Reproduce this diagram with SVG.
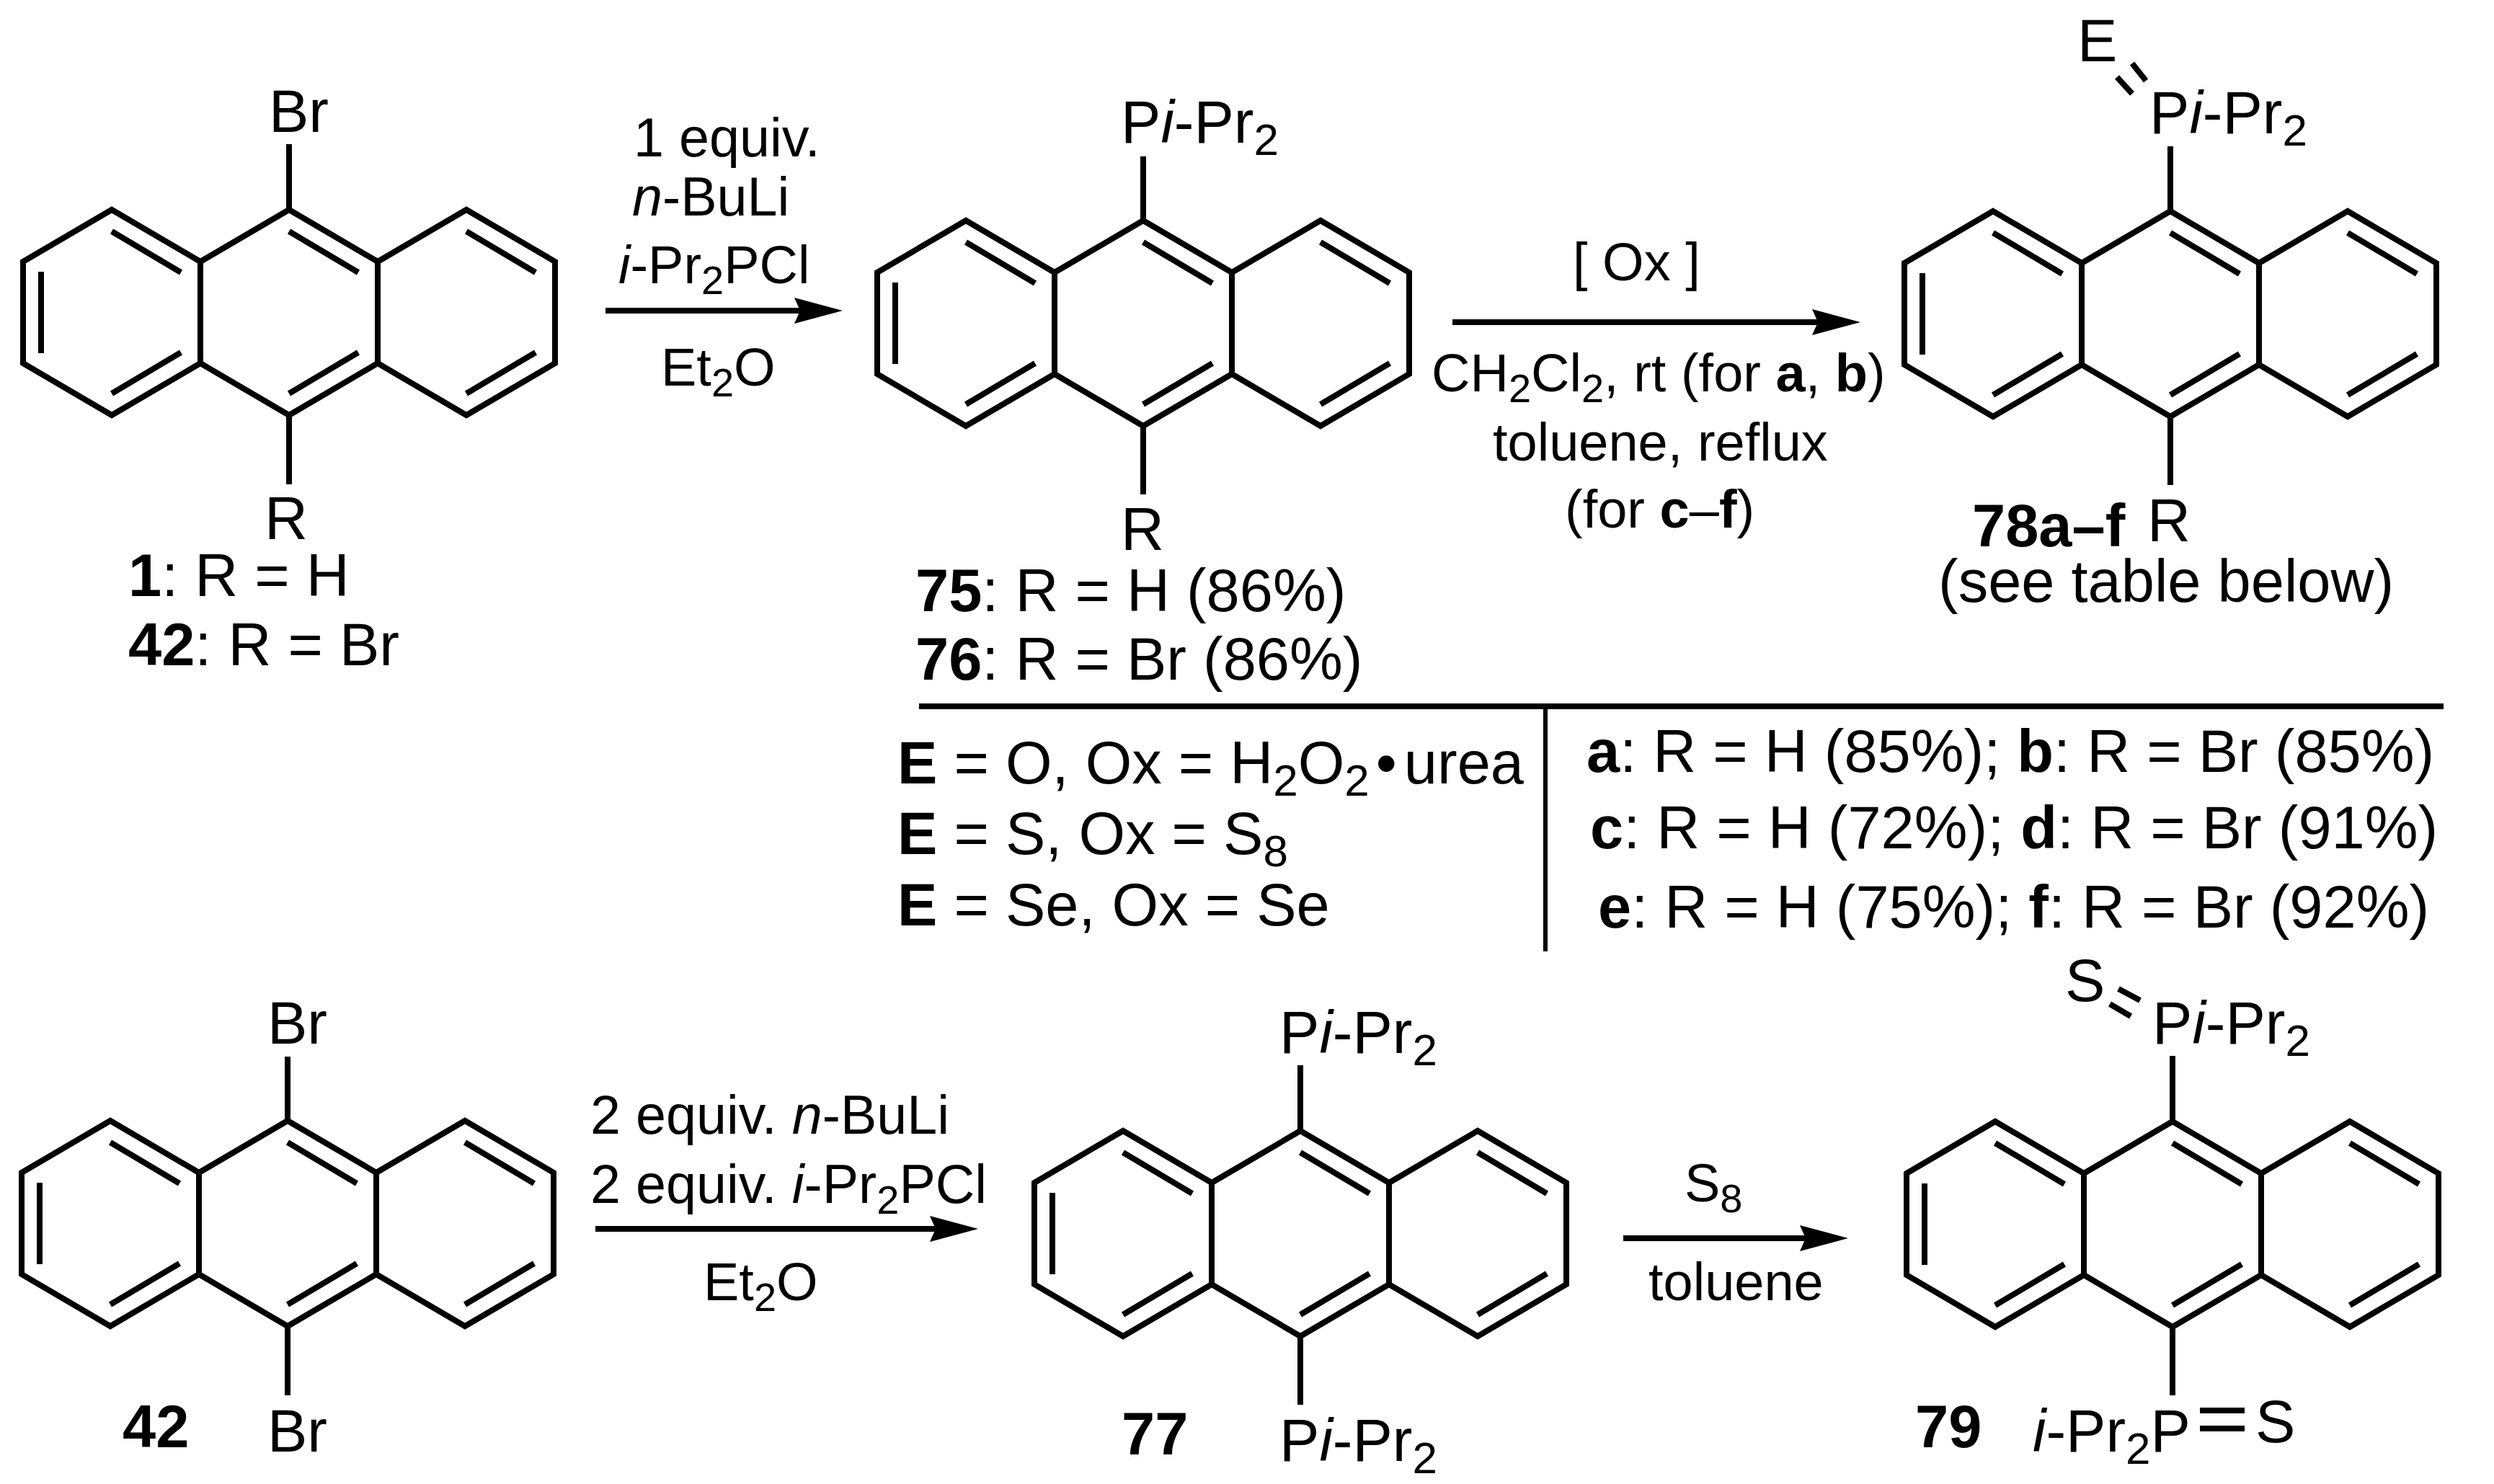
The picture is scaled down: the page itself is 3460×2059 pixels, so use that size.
<svg xmlns="http://www.w3.org/2000/svg" width="3460" height="2059" viewBox="0 0 3460 2059">
<style>
text{font-family:"Liberation Sans",Arial,sans-serif;font-size:83px;fill:#000;white-space:pre}
.b{font-weight:700}
.i{font-style:italic}
.s{font-size:62px}
text.r{font-size:74px}
text.q{font-size:75.5px}
.r .s,.q .s{font-size:56px}
.ln{stroke:#000;stroke-width:8;fill:none;stroke-linejoin:miter}
</style>
<defs>
<path id="anth" class="ln" d="M0,72 L123,0 L246,72 L369,0 L492,72 L615,0 L738,72 V213 L615,285 L492,213 L369,285 L246,213 L123,285 L0,213 Z M246,72 V213 M492,72 V213 M25,86 V199 M123,30 L219,87 M369,30 L465,87 M615,30 L711,87 M123,255 L219,198 M369,255 L465,198 M615,255 L711,198"/>
<marker id="head" markerUnits="userSpaceOnUse" markerWidth="67" markerHeight="36" viewBox="0 0 67 36" refX="25" refY="18" orient="auto">
<path d="M0,0 L67,18 L0,36 L8,18 Z" fill="#000"/>
</marker>
</defs>
<rect width="3460" height="2059" fill="#fff"/>
<g id="connectors">
<line class="ln" x1="840" y1="431" x2="1127" y2="431" marker-end="url(#head)"/>
<line class="ln" x1="2015" y1="447" x2="2539" y2="447" marker-end="url(#head)"/>
<line class="ln" x1="826" y1="1705" x2="1315" y2="1705" marker-end="url(#head)"/>
<line class="ln" x1="2252" y1="1718" x2="2522" y2="1718" marker-end="url(#head)"/>
</g>
<g id="node-1">
<use href="#anth" x="32" y="291"/>
<path class="ln" d="M401,200 V291 M401,576 V672"/>
<text x="373" y="183">Br</text>
<text x="367" y="748">R</text>
<text x="178" y="827"><tspan class="b">1</tspan>: R = H</text>
<text x="178" y="923"><tspan class="b">42</tspan>: R = Br</text>
</g>
<g id="node-75">
<use href="#anth" x="1217" y="306"/>
<path class="ln" d="M1586,217 V306 M1586,591 V686"/>
<text x="1555" y="198">P<tspan class="i">i</tspan>-Pr<tspan class="s" dy="17">2</tspan></text>
<text x="1555" y="763">R</text>
<text x="1270" y="848"><tspan class="b">75</tspan>: R = H (86%)</text>
<text x="1270" y="943"><tspan class="b">76</tspan>: R = Br (86%)</text>
</g>
<g id="node-78">
<use href="#anth" x="2642" y="293"/>
<path class="ln" d="M3011,203 V293 M3011,578 V673 M2937,107 L2958,130 M2958,88 L2977,112"/>
<text x="2982" y="185">P<tspan class="i">i</tspan>-Pr<tspan class="s" dy="17">2</tspan></text>
<text x="2882" y="85">E</text>
<text x="2736" y="758" class="b">78a–f</text>
<text x="2979" y="751">R</text>
<text x="2689" y="835">(see table below)</text>
</g>
<g id="node-42">
<use href="#anth" x="30" y="1555"/>
<path class="ln" d="M399,1466 V1555 M399,1840 V1936"/>
<text x="371" y="1448">Br</text>
<text x="371" y="2014">Br</text>
<text class="b" x="170" y="2008">42</text>
</g>
<g id="node-77">
<use href="#anth" x="1435" y="1569"/>
<path class="ln" d="M1804,1478 V1569 M1804,1854 V1949"/>
<text x="1775" y="1461">P<tspan class="i">i</tspan>-Pr<tspan class="s" dy="17">2</tspan></text>
<text x="1775" y="2027">P<tspan class="i">i</tspan>-Pr<tspan class="s" dy="17">2</tspan></text>
<text class="b" x="1556" y="2018">77</text>
</g>
<g id="node-79">
<use href="#anth" x="2645" y="1556"/>
<path class="ln" d="M3014,1465 V1556 M3014,1841 V1936 M2927,1393 L2956,1410 M2939,1372 L2969,1388 M3052,1957 H3114 M3052,1982 H3114"/>
<text x="2986" y="1448">P<tspan class="i">i</tspan>-Pr<tspan class="s" dy="17">2</tspan></text>
<text x="2865" y="1389">S</text>
<text class="b" x="2657" y="2008">79</text>
<text x="2820" y="2014"><tspan class="i">i</tspan>-Pr<tspan class="s" dy="17">2</tspan><tspan dy="-17">P</tspan></text>
<text x="3129" y="2001">S</text>
</g>
<g id="reagents-1">
<text class="q" x="879" y="217">1 equiv.</text>
<text class="q" x="877" y="299"><tspan class="i">n</tspan>-BuLi</text>
<text class="r" x="858" y="393"><tspan class="i">i</tspan>-Pr<tspan class="s" dy="15">2</tspan><tspan dy="-15">PCl</tspan></text>
<text class="r" x="917" y="535">Et<tspan class="s" dy="15">2</tspan><tspan dy="-15">O</tspan></text>
</g>
<g id="reagents-2">
<text class="r" x="2182" y="389">[ Ox ]</text>
<text class="r" x="1986" y="543">CH<tspan class="s" dy="15">2</tspan><tspan dy="-15">Cl</tspan><tspan class="s" dy="15">2</tspan><tspan dy="-15">, rt (for </tspan><tspan class="b">a</tspan>, <tspan class="b">b</tspan>)</text>
<text class="r" x="2071" y="639">toluene, reflux</text>
<text class="r" x="2171" y="732">(for <tspan class="b">c</tspan>–<tspan class="b">f</tspan>)</text>
</g>
<g id="reagents-3">
<text class="q" x="819" y="1573">2 equiv. <tspan class="i">n</tspan>-BuLi</text>
<text class="q" x="819" y="1669">2 equiv. <tspan class="i">i</tspan>-Pr<tspan class="s" dy="15">2</tspan><tspan dy="-15">PCl</tspan></text>
<text class="r" x="976" y="1804">Et<tspan class="s" dy="15">2</tspan><tspan dy="-15">O</tspan></text>
</g>
<g id="reagents-4">
<text class="r" x="2337" y="1667">S<tspan class="s" dy="15">8</tspan></text>
<text class="r" x="2287" y="1804">toluene</text>
</g>
<g id="table">
<path class="ln" d="M1275,980 H3390"/>
<path class="ln" style="stroke-width:6" d="M2144,984 V1320"/>
<text x="1245" y="1087"><tspan class="b">E</tspan> = O, Ox = H<tspan class="s" dy="17">2</tspan><tspan dy="-17">O</tspan><tspan class="s" dy="17">2</tspan><tspan dy="-17" dx="9">•</tspan><tspan dx="10">urea</tspan></text>
<text x="1245" y="1185"><tspan class="b">E</tspan> = S, Ox = S<tspan class="s" dy="17">8</tspan></text>
<text x="1245" y="1284"><tspan class="b">E</tspan> = Se, Ox = Se</text>
<text x="2201" y="1071"><tspan class="b">a</tspan>: R = H (85%); <tspan class="b">b</tspan>: R = Br (85%)</text>
<text x="2206" y="1177"><tspan class="b">c</tspan>: R = H (72%); <tspan class="b">d</tspan>: R = Br (91%)</text>
<text x="2217" y="1287"><tspan class="b">e</tspan>: R = H (75%); <tspan class="b">f</tspan>: R = Br (92%)</text>
</g>
</svg>
